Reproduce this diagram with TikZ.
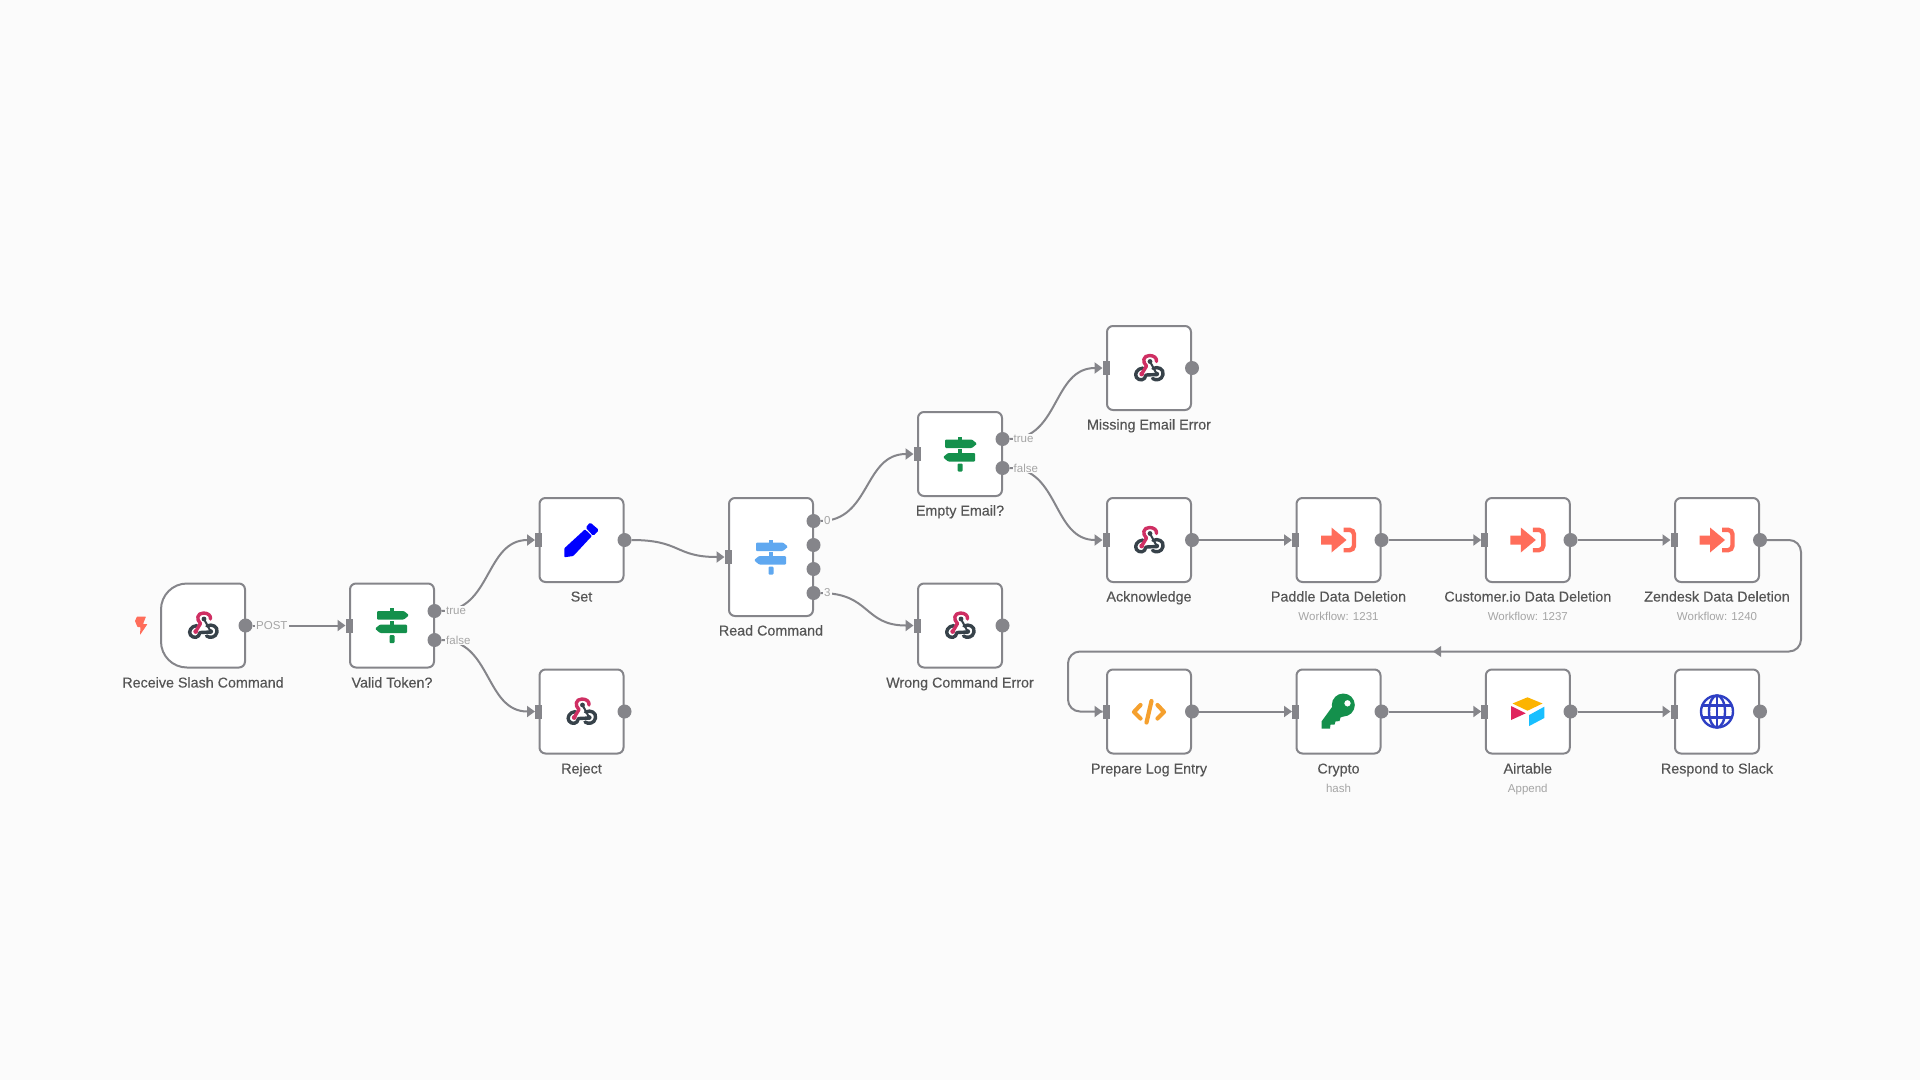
\documentclass[tikz,border=0pt]{standalone}
\usepackage{fontspec}
\setmainfont{Liberation Sans}
\newfontfamily\labfont[FakeBold=0.25]{Liberation Sans}
\usetikzlibrary{arrows.meta}
\definecolor{bgc}{HTML}{FBFBFB}
\definecolor{edgec}{HTML}{85858A}
\definecolor{labc}{HTML}{555555}
\definecolor{subc}{HTML}{A5A5A5}
\definecolor{greenc}{HTML}{14904C}
\definecolor{bluec}{HTML}{5FA8F0}
\definecolor{redc}{HTML}{FF6D5A}
\definecolor{orangec}{HTML}{F5A02E}
\definecolor{pinkc}{HTML}{CF2F63}
\definecolor{darkc}{HTML}{37424A}
\definecolor{globec}{HTML}{2E3FC4}
\definecolor{atyellow}{HTML}{FCB400}
\definecolor{atblue}{HTML}{18BFFF}
\definecolor{atred}{HTML}{E0245E}
\tikzset{
  x=1pt,y=-1pt,
  nodebox/.style={draw=edgec,line width=2pt,fill=white,rounded corners=6pt,minimum width=84pt,minimum height=84pt,inner sep=0pt,outer sep=0pt},
  tallbox/.style={nodebox,minimum height=118pt},
  outdot/.style={circle,fill=edgec,minimum size=14pt,inner sep=0pt,outer sep=0pt},
  inport/.style={rectangle,fill=edgec,minimum width=7pt,minimum height=14pt,inner sep=0pt,outer sep=0pt},
  wire/.style={draw=edgec,line width=2pt,-{Triangle[length=8pt,width=11pt]}},
  plainwire/.style={draw=edgec,line width=2pt},
  namelab/.style={text=labc,font=\labfont\fontsize{14.3}{16}\selectfont,inner sep=0pt,anchor=base},
  sublab/.style={text=subc,font=\fontsize{11.5}{13}\selectfont,inner sep=0pt,anchor=base},
  portlab/.style={text=subc,font=\fontsize{11.5}{13}\selectfont,fill=bgc,inner sep=1pt,anchor=west},
}
\newcommand{\hookicon}[1]{%
  \begin{scope}[shift={(#1)},line cap=round,line join=round]
    \draw[darkc,line width=3.4pt] (-6,0) .. controls (-12,0.5) and (-15,6) .. (-12.5,9.5) .. controls (-10,13) and (-4,13) .. (-3,7) -- (7.7,6.5);
    \draw[darkc,line width=3.4pt] (4,0.5) .. controls (9,-2) and (15,1) .. (14,6.5) .. controls (13,12) and (7,13) .. (3.5,10.5);
    \draw[darkc,line width=2pt] (1,-6.5) -- (7.7,6);
    \fill[darkc] (1,-6.5) circle (2.4pt);
    \fill[darkc] (7.7,6) circle (2.4pt);
    \draw[pinkc,line width=3.4pt] (-7.3,6) -- (-2.5,-2) .. controls (-7,-6) and (-6,-12.5) .. (0.5,-12.5) .. controls (5,-12.5) and (8,-10) .. (7.5,-6.5);
    \fill[pinkc] (-7.3,6) circle (2.4pt);
  \end{scope}}
\newcommand{\signicon}[2]{%
  \begin{scope}[shift={(#1)}]
    \fill[#2] (-2.2,-17.5) rectangle (2.2,-13);
    \fill[#2] (-2.2,-5) rectangle (2.2,0);
    \fill[#2,rounded corners=1pt] (-2.5,9.5) rectangle (2.5,17.5);
    \fill[#2,rounded corners=1pt] (-15,-14.5) -- (12,-14.5) -- (17,-10.3) -- (12,-6) -- (-15,-6) -- cycle;
    \fill[#2,rounded corners=1pt] (15,-1) -- (-12,-1) -- (-17,3.2) -- (-12,7.5) -- (15,7.5) -- cycle;
  \end{scope}}
\newcommand{\execicon}[1]{%
  \begin{scope}[shift={(#1)}]
    \fill[redc] (-17.5,-4.5) -- (-7,-4.5) -- (-7,-12.5) -- (8,0) -- (-7,12.5) -- (-7,4.5) -- (-17.5,4.5) -- cycle;
    \draw[redc,line width=4.4pt,rounded corners=4.5pt] (5,-10.2) -- (15.5,-10.2) -- (15.5,10.2) -- (5,10.2);
  \end{scope}}
\begin{document}
\begin{tikzpicture}
\useasboundingbox (0,0) rectangle (1920,1080);
\fill[bgc] (0,0) rectangle (1920,1080);

% boxes
\draw[draw=edgec,line width=2pt,fill=white] (187,583.5) .. controls (172.6,583.5) and (161,595.1) .. (161,609.5) -- (161,641.5) .. controls (161,655.9) and (172.6,667.5) .. (187,667.5) -- (239,667.5) .. controls (242.3,667.5) and (245,664.8) .. (245,661.5) -- (245,589.5) .. controls (245,586.2) and (242.3,583.5) .. (239,583.5) -- cycle;

\node[nodebox] (valid) at (392,625.5) {};
\node[nodebox] (setn) at (581.5,540) {};
\node[nodebox] (reject) at (581.5,711.5) {};
\node[tallbox] (read) at (771,557) {};
\node[nodebox] (empty) at (960,454) {};
\node[nodebox] (wrong) at (960,625.5) {};
\node[nodebox] (missing) at (1149,368) {};
\node[nodebox] (ack) at (1149,540) {};
\node[nodebox] (paddle) at (1338.5,540) {};
\node[nodebox] (custio) at (1527.8,540) {};
\node[nodebox] (zen) at (1717,540) {};
\node[nodebox] (prep) at (1149,711.5) {};
\node[nodebox] (crypto) at (1338.5,711.5) {};
\node[nodebox] (airt) at (1527.8,711.5) {};
\node[nodebox] (resp) at (1717,711.5) {};

% ports
\node[outdot] (o1) at (245.5,625.5) {};
\node[outdot] (o2t) at (434.5,611) {};
\node[outdot] (o2f) at (434.5,640) {};
\node[outdot] (o3) at (624.5,540) {};
\node[outdot] (o4) at (624.5,711.5) {};
\node[outdot] (o50) at (813.5,521) {};
\node[outdot] (o51) at (813.5,545) {};
\node[outdot] (o52) at (813.5,569) {};
\node[outdot] (o53) at (813.5,593) {};
\node[outdot] (o6t) at (1002.5,439) {};
\node[outdot] (o6f) at (1002.5,468) {};
\node[outdot] (o7) at (1002.5,625.5) {};
\node[outdot] (o8) at (1192,368) {};
\node[outdot] (o9) at (1192,540) {};
\node[outdot] (o10) at (1381.5,540) {};
\node[outdot] (o11) at (1570.5,540) {};
\node[outdot] (o12) at (1760,540) {};
\node[outdot] (o13) at (1192,711.5) {};
\node[outdot] (o14) at (1381.5,711.5) {};
\node[outdot] (o15) at (1570.5,711.5) {};
\node[outdot] (o16) at (1760,711.5) {};

\node[inport] (i2) at (349,625.5) {};
\node[inport] (i3) at (538.5,540) {};
\node[inport] (i4) at (538.5,711.5) {};
\node[inport] (i5) at (728,557) {};
\node[inport] (i6) at (917,454) {};
\node[inport] (i7) at (917,625.5) {};
\node[inport] (i8) at (1106,368) {};
\node[inport] (i9) at (1106,540) {};
\node[inport] (i10) at (1295.5,540) {};
\node[inport] (i11) at (1484.8,540) {};
\node[inport] (i12) at (1674,540) {};
\node[inport] (i13) at (1106,711.5) {};
\node[inport] (i14) at (1295.5,711.5) {};
\node[inport] (i15) at (1484.8,711.5) {};
\node[inport] (i16) at (1674,711.5) {};

% connectors
\draw[wire] (o1.east) -- (i2.west);
\draw[wire] (o2t.east) .. controls +(50,0) and +(-50,0) .. (i3.west);
\draw[wire] (o2f.east) .. controls +(50,0) and +(-50,0) .. (i4.west);
\draw[wire] (o3.east) .. controls +(50,0) and +(-50,0) .. (i5.west);
\draw[wire] (o50.east) .. controls +(50,0) and +(-50,0) .. (i6.west);
\draw[wire] (o53.east) .. controls +(50,0) and +(-50,0) .. (i7.west);
\draw[wire] (o6t.east) .. controls +(50,0) and +(-50,0) .. (i8.west);
\draw[wire] (o6f.east) .. controls +(50,0) and +(-50,0) .. (i9.west);
\draw[wire] (o9.east) -- (i10.west);
\draw[wire] (o10.east) -- (i11.west);
\draw[wire] (o11.east) -- (i12.west);
\draw[wire] (o13.east) -- (i14.west);
\draw[wire] (o14.east) -- (i15.west);
\draw[wire] (o15.east) -- (i16.west);
\coordinate (loopa) at (1801,540);
\coordinate (loopb) at (1801,651.5);
\coordinate (loopc) at (1068,651.5);
\coordinate (loopd) at (1068,711.5);
\coordinate (loopm) at (1433,651.5);
\draw[plainwire,rounded corners=12pt] (o12.east) -- (loopa) -- (loopb) -- (loopc) -- (loopd) -- (i13.west);
\draw[wire] (i13.west)++(-8,0) -- (i13.west);
\fill[edgec] (loopm) -- ++(8,-5.5) -- ++(0,11) -- cycle;

% port labels
\node[portlab] (lp) at (255,625.5) {POST};
\node[portlab] (l2t) at (445,610.5) {true};
\node[portlab] (l2f) at (445,640) {false};
\node[portlab] (l50) at (823,521) {0};
\node[portlab] (l53) at (823,593) {3};
\node[portlab] (l6t) at (1012.5,438.5) {true};
\node[portlab] (l6f) at (1012.5,468) {false};

% lightning
\fill[redc,rounded corners=0.6pt] (137,616.5) -- (146,616.5) -- (143,624) -- (147.5,624) -- (140,635) -- (140.5,627) -- (137.5,627) -- (135,621) -- cycle;

% icons
\hookicon{203,625.5}
\hookicon{581.5,711.5}
\hookicon{960,625.5}
\hookicon{1149,368}
\hookicon{1149,540}
\signicon{392,625.5}{greenc}
\signicon{960,454}{greenc}
\signicon{771,557}{bluec}
\execicon{1338.5,540}
\execicon{1527.8,540}
\execicon{1717,540}

% pen
\begin{scope}[shift={(581.5,540)}]
  \fill[blue,rounded corners=0.8pt] (-17.2,8.3) -- (3.5,-10.7) -- (10.4,-4) -- (-8.2,16) -- (-17.2,17.3) -- cycle;
  \fill[blue,rounded corners=1.5pt] (4.2,-12.3) -- (8.5,-17.7) -- (17.5,-10) -- (11.8,-4) -- cycle;
\end{scope}

% code
\begin{scope}[shift={(1149,711.5)},line width=4.2pt,line cap=round,line join=round]
  \draw[orangec] (-8.5,-6.5) -- (-15,0.5) -- (-8.5,7);
  \draw[orangec] (8.5,-6.5) -- (15,0.5) -- (8.5,7);
  \draw[orangec] (2.5,-10.5) -- (-2.5,11);
\end{scope}

% key
\begin{scope}[shift={(1338.5,711.5)}]
  \fill[greenc,even odd rule] (4.8,-6.5) circle (11.5pt) (9,-8.2) circle (3.3pt);
  \fill[greenc] (-1,-12) -- (12,2) -- (2,6) -- (1,9.5) -- (-3,10) -- (-4,13) -- (-8,13.2) -- (-8.5,17) -- (-17,17) -- (-17,10) -- cycle;
\end{scope}

% airtable
\begin{scope}[shift={(1527.5,711.5)}]
  \fill[atyellow] (0,-14.2) -- (15,-8) -- (0,-0.8) -- (-15,-8) -- cycle;
  \fill[atblue] (1.7,3.5) -- (16.8,-4.8) -- (16.8,6.5) -- (1.7,14.5) -- cycle;
  \fill[atred] (-16.5,-5.5) -- (-1.8,1.8) -- (-16.5,8.5) -- cycle;
\end{scope}

% globe
\begin{scope}[shift={(1717,711.5)},line width=2.4pt]
  \draw[globec] (0,0) circle (16pt);
  \draw[globec] (0,0) ellipse (8pt and 16pt);
  \draw[globec] (0,-16) -- (0,16);
  \draw[globec] (-14.8,-6) -- (14.8,-6);
  \draw[globec] (-14.8,6) -- (14.8,6);
\end{scope}

% names
\node[namelab] (t1) at (203,687.5) {Receive Slash Command};
\node[namelab] (t2) at (392,687.5) {Valid Token?};
\node[namelab] (t3) at (581.5,601.5) {Set};
\node[namelab] (t4) at (581.5,773.5) {Reject};
\node[namelab] (t5) at (771,635.5) {Read Command};
\node[namelab] (t6) at (960,515.5) {Empty Email?};
\node[namelab] (t7) at (960,687.5) {Wrong Command Error};
\node[namelab] (t8) at (1149,429.5) {Missing Email Error};
\node[namelab] (t9) at (1149,601.5) {Acknowledge};
\node[namelab] (t10) at (1338.5,601.5) {Paddle Data Deletion};
\node[namelab] (t11) at (1527.8,601.5) {Customer.io Data Deletion};
\node[namelab] (t12) at (1717,601.5) {Zendesk Data Deletion};
\node[namelab] (t13) at (1149,773.5) {Prepare Log Entry};
\node[namelab] (t14) at (1338.5,773.5) {Crypto};
\node[namelab] (t15) at (1527.8,773.5) {Airtable};
\node[namelab] (t16) at (1717,773.5) {Respond to Slack};
\node[sublab] (s10) at (1338.5,620) {Workflow: 1231};
\node[sublab] (s11) at (1527.8,620) {Workflow: 1237};
\node[sublab] (s12) at (1717,620) {Workflow: 1240};
\node[sublab] (s14) at (1338.5,792) {hash};
\node[sublab] (s15) at (1527.8,792) {Append};
\end{tikzpicture}
\end{document}
